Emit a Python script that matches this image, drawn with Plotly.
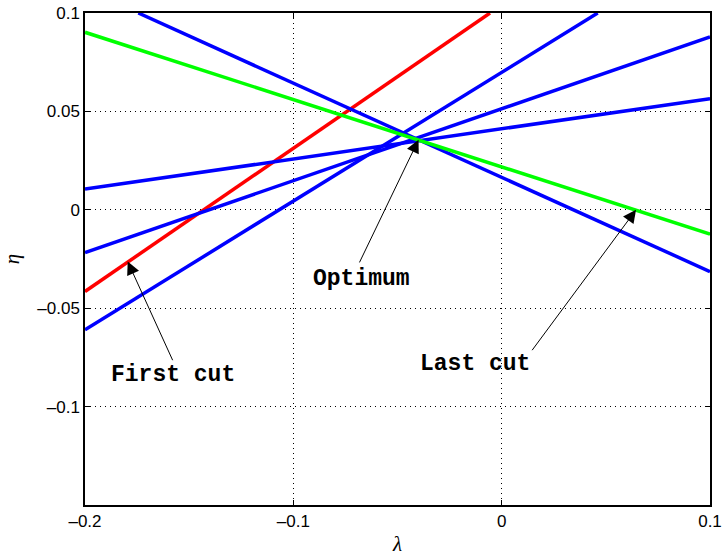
import plotly.graph_objects as go

# Cutting-plane lines (endpoints in data units)
red_lambda = [-0.2, -0.0056]
red_eta = [-0.0415, 0.1]

blue_lambda = [
    [-0.2, 0.0461],
    [-0.2, 0.1],
    [-0.2, 0.1],
    [-0.1744, 0.1],
]
blue_eta = [
    [-0.061, 0.1],
    [-0.0217, 0.0878],
    [0.0105, 0.0565],
    [0.1, -0.0314],
]

green_lambda = [-0.2, 0.1]
green_eta = [0.0902, -0.0124]

# annotations: (label, tip lambda, tip eta, tail lambda, tail eta, text lambda, text eta)
notes = [
    ("First cut", -0.1795, -0.0263, -0.1576, -0.0772, -0.158, -0.0839),
    ("Optimum", -0.0399, 0.0356, -0.0686, -0.0275, -0.0672, -0.0351),
    ("Last cut", 0.0645, 0.0, 0.0141, -0.0721, -0.0129, -0.0783),
]

x_ticks = [-0.2, -0.1, 0, 0.1]
x_ticklabels = ["\u20130.2", "\u20130.1", "0", "0.1"]
y_ticks = [-0.1, -0.05, 0, 0.05, 0.1]
y_ticklabels = ["\u20130.1", "\u20130.05", "0", "0.05", "0.1"]

LW = 3.5
fig = go.Figure()
fig.add_trace(go.Scatter(x=red_lambda, y=red_eta, mode="lines",
                         line=dict(color="#ff0000", width=LW), showlegend=False))
for lx, ly in zip(blue_lambda, blue_eta):
    fig.add_trace(go.Scatter(x=lx, y=ly, mode="lines",
                             line=dict(color="#0000ff", width=LW), showlegend=False))
fig.add_trace(go.Scatter(x=green_lambda, y=green_eta, mode="lines",
                         line=dict(color="#00ff00", width=LW), showlegend=False))

for label, tx, ty, ax, ay, lx, ly in notes:
    fig.add_annotation(x=tx, y=ty, ax=ax, ay=ay, xref="x", yref="y",
                       axref="x", ayref="y", text="", showarrow=True,
                       arrowhead=2, arrowsize=2.6, arrowwidth=1, arrowcolor="black",
                       standoff=0, startstandoff=0)
    fig.add_annotation(x=lx, y=ly, xref="x", yref="y", text="<b>%s</b>" % label,
                       showarrow=False, xanchor="center", yanchor="middle",
                       font=dict(family="Liberation Mono, Courier New, monospace",
                                 size=23, color="black"))

axis_common = dict(
    automargin=False,
    showline=True, linecolor="black", linewidth=1.5, mirror="ticks",
    ticks="inside", ticklen=5, tickcolor="black", tickwidth=1,
    showgrid=True, gridcolor="black", gridwidth=1, griddash="1px,4px",
    zeroline=False,
    tickfont=dict(family="Liberation Sans, Arial, sans-serif", size=17, color="black"),
)

fig.update_xaxes(range=[-0.2, 0.1], tickvals=x_ticks, ticktext=x_ticklabels,
                 title=dict(text="\u03bb", standoff=8,
                            font=dict(family="Liberation Serif, Times New Roman, serif",
                                      size=21, color="black", style="italic")),
                 **axis_common)
fig.update_yaxes(range=[-0.15, 0.1], tickvals=y_ticks, ticktext=y_ticklabels,
                 title=dict(text="\u03b7", standoff=14,
                            font=dict(family="Liberation Serif, Times New Roman, serif",
                                      size=21, color="black", style="italic")),
                 **axis_common)

fig.update_layout(
    width=722, height=556,
    margin=dict(l=85, r=12, t=13, b=51),
    paper_bgcolor="white", plot_bgcolor="white",
    showlegend=False,
)

fig.write_html("out.html")
